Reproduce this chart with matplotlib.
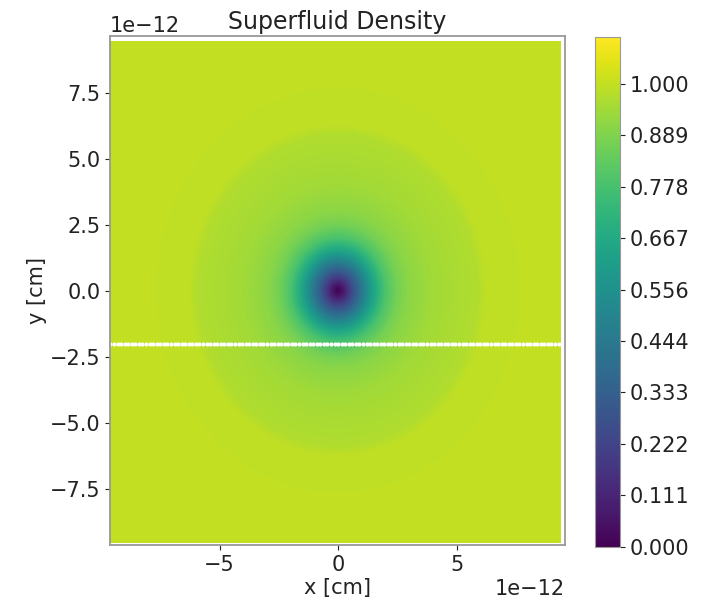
import numpy as np
import matplotlib
matplotlib.use('Agg')
import matplotlib.pyplot as plt

# radial density profile of the vortex (r in units of 1e-12 cm)
r_profile = [0.0, 0.25, 0.5, 0.75, 1.0, 1.25, 1.5, 1.75, 2.0, 2.5, 3.0, 4.0, 5.0, 5.9, 6.3, 10.0, 20.0]
rho_profile = [0.0, 0.08, 0.2, 0.32, 0.43, 0.54, 0.64, 0.72, 0.79, 0.87, 0.91, 0.945, 0.96, 0.97, 0.995, 1.0, 1.0]

# grid extent and the cut line drawn across it
x_min, x_max = -9.6e-12, 9.4e-12
y_min, y_max = -9.55e-12, 9.43e-12
n_grid = 128
cut_y = -2.0e-12

cbar_ticks = np.linspace(0, 1, 10)
vmin, vmax = 0.0, 1.1

xs = np.linspace(x_min, x_max, 256)
ys = np.linspace(y_min, y_max, 256)
X, Y = np.meshgrid(xs, ys)
R = np.sqrt(X**2 + Y**2) / 1e-12
rho = np.interp(R, r_profile, rho_profile)

fig = plt.figure(figsize=(7.03, 6.01), dpi=100)
ax = fig.add_axes([0.1565, 0.093, 0.6475, 0.847])
cax = fig.add_axes([0.846, 0.09, 0.036, 0.848])

im = ax.imshow(rho, origin='lower', extent=[x_min, x_max, y_min, y_max],
               cmap='viridis', vmin=vmin, vmax=vmax, aspect='auto',
               interpolation='bilinear')

line_x = np.linspace(x_min, x_max + 0.05e-12, n_grid)
ax.plot(line_x, np.full(n_grid, cut_y), 'o', color='white', ms=3, mew=0)

ax.set_xlim(-9.62e-12, 9.58e-12)
ax.set_ylim(-9.62e-12, 9.66e-12)
ax.set_xticks([-5e-12, 0, 5e-12])
ax.set_yticks([-7.5e-12, -5e-12, -2.5e-12, 0, 2.5e-12, 5e-12, 7.5e-12])

ax.set_title('Superfluid Density', fontsize=17, color='#222222', pad=5)
ax.set_xlabel('x [cm]', fontsize=15, color='#222222', labelpad=2)
ax.set_ylabel('y [cm]', fontsize=15, color='#222222', labelpad=2)
ax.tick_params(labelsize=15, colors='#222222')
ax.xaxis.get_offset_text().set_fontsize(15)
ax.yaxis.get_offset_text().set_fontsize(15)
for sp in ax.spines.values():
    sp.set_color('0.6')
    sp.set_linewidth(1.3)

cb = fig.colorbar(im, cax=cax, ticks=cbar_ticks, format='%.3f')
cb.ax.tick_params(labelsize=15, colors='#222222')
cb.outline.set_edgecolor('0.6')

fig.savefig('out.png', dpi=100)
